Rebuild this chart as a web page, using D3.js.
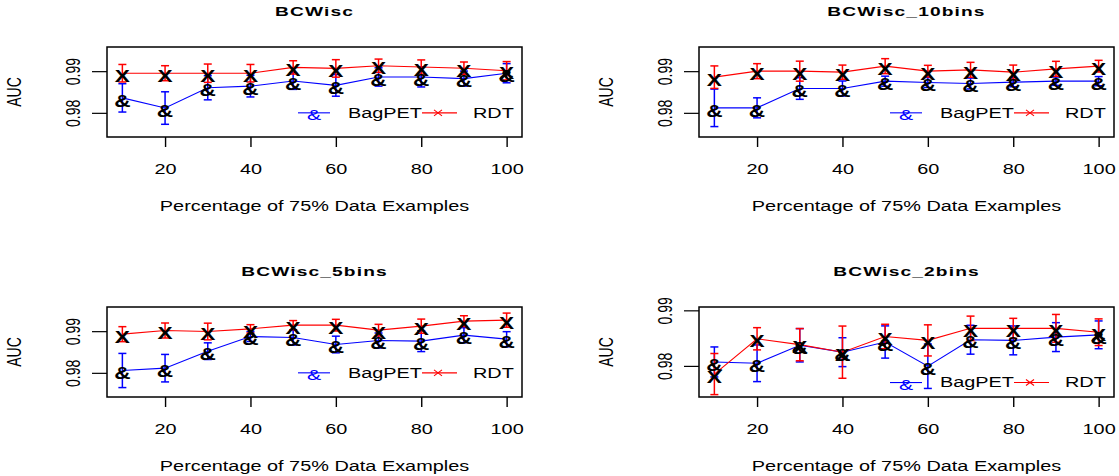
<!DOCTYPE html>
<html>
<head>
<meta charset="utf-8">
<script src="https://cdn.jsdelivr.net/npm/d3@7"></script>
<style>
  body { margin: 0; background: #fff; }
  text { font-family: "Liberation Sans", Arial, sans-serif; fill: #000; }
</style>
</head>
<body>
<div id="chart"></div>
<script>
// x values (percentage of the 75% data)
const pct = [10, 20, 30, 40, 50, 60, 70, 80, 90, 100];
const xTicks = [20, 40, 60, 80, 100];
const yTicks = [0.98, 0.99];
const titles = ["BCWisc", "BCWisc_10bins", "BCWisc_5bins", "BCWisc_2bins"];
const ylims = [[0.975, 0.995], [0.975, 0.995], [0.975, 0.995], [0.975, 0.99]];
const legendAt = [0.98, 0.98, 0.98, 0.977];

// BCWisc
const bag1 = [0.98359, 0.98115, 0.98602, 0.98641, 0.98763, 0.98659, 0.98861, 0.98861, 0.98822, 0.98951];
const bagErr1 = [0.0034, 0.0039, 0.0029, 0.0026, 0.0020, 0.0026, 0.0022, 0.0024, 0.0018, 0.0023];
const rdt1 = [0.98951, 0.98951, 0.98951, 0.98951, 0.9909, 0.99066, 0.9913, 0.9910, 0.9907, 0.9901];
const rdtErr1 = [0.0021, 0.0018, 0.0022, 0.0021, 0.0016, 0.0021, 0.0016, 0.0017, 0.0015, 0.0022];
// BCWisc_10bins
const bag2 = [0.9812, 0.9812, 0.98584, 0.98584, 0.9876, 0.98728, 0.98704, 0.98736, 0.9876, 0.9876];
const bagErr2 = [0.0045, 0.0024, 0.0026, 0.0018, 0.0012, 0.0012, 0.0013, 0.0011, 0.0010, 0.0011];
const rdt2 = [0.98856, 0.9900, 0.9900, 0.98976, 0.9912, 0.9900, 0.99032, 0.98976, 0.99056, 0.9912];
const rdtErr2 = [0.0027, 0.0018, 0.0024, 0.0017, 0.0018, 0.0014, 0.0018, 0.0017, 0.0018, 0.0014];
// BCWisc_5bins
const bag3 = [0.98056, 0.98112, 0.9852, 0.98872, 0.98848, 0.9868, 0.98776, 0.9876, 0.98904, 0.98808];
const bagErr3 = [0.0041, 0.0033, 0.0020, 0.0012, 0.0018, 0.0020, 0.0018, 0.0025, 0.0018, 0.0018];
const rdt3 = [0.98928, 0.99016, 0.98992, 0.99056, 0.99144, 0.99144, 0.99024, 0.9912, 0.9924, 0.99264];
const rdtErr3 = [0.0018, 0.0018, 0.0020, 0.0010, 0.0011, 0.0014, 0.0014, 0.0017, 0.0013, 0.0017];
// BCWisc_2bins
const bag4 = [0.98071, 0.98047, 0.98371, 0.98247, 0.9843, 0.97994, 0.98471, 0.98459, 0.98518, 0.98559];
const bagErr4 = [0.0027, 0.0033, 0.0030, 0.0026, 0.0029, 0.0040, 0.0026, 0.0026, 0.0026, 0.0025];
const rdt4 = [0.97853, 0.98488, 0.98382, 0.98247, 0.98529, 0.98459, 0.98676, 0.98676, 0.98676, 0.98606];
const rdtErr4 = [0.0037, 0.0020, 0.0029, 0.0047, 0.0022, 0.0028, 0.0022, 0.0018, 0.0025, 0.0024];

const bagMeans = [bag1, bag2, bag3, bag4];
const bagErrs = [bagErr1, bagErr2, bagErr3, bagErr4];
const rdtMeans = [rdt1, rdt2, rdt3, rdt4];
const rdtErrs = [rdtErr1, rdtErr2, rdtErr3, rdtErr4];

// the reference picture is stretched sideways, so text is too
const SX = 1.42;
const pw = 415, ph = 90;
const boxes = [[107, 47], [699, 47], [107, 307], [699, 307]];

const svg = d3.select("#chart").append("svg")
  .attr("width", 1119)
  .attr("height", 476);
svg.append("rect").attr("width", 1119).attr("height", 476).attr("fill", "#fff");

// R style: extend the range by 4% on each side
function ext(lo, hi) {
  const d = (hi - lo) * 0.04;
  return [lo - d, hi + d];
}

function stretchedText(g, x, y, str, size, weight, rot) {
  return g.append("text")
    .attr("transform", "translate(" + x + "," + y + ") scale(" + SX + ",1)" + (rot ? " rotate(-90)" : ""))
    .attr("text-anchor", "middle")
    .attr("dominant-baseline", "central")
    .style("font-size", size + "px")
    .style("font-weight", weight || "normal")
    .text(str);
}

titles.forEach(function(title, i) {
  const left = boxes[i][0], top = boxes[i][1];
  const g = svg.append("g").attr("transform", "translate(" + left + "," + top + ")");

  const x = d3.scaleLinear().domain(ext(10, 100)).range([0, pw]);
  const y = d3.scaleLinear().domain(ext(ylims[i][0], ylims[i][1])).range([ph, 0]);

  // x axis
  const xa = g.append("g")
    .attr("transform", "translate(0," + ph + ")")
    .call(d3.axisBottom(x).tickValues(xTicks).tickSize(10).tickFormat(d3.format("d")));
  xa.select(".domain").remove();
  xa.selectAll("line").attr("stroke", "#000").attr("stroke-width", 1.4);
  xa.selectAll("text")
    .attr("y", null).attr("dy", null)
    .attr("transform", "translate(0,32) scale(" + SX + ",1)")
    .attr("dominant-baseline", "central")
    .style("font-size", "14px")
    .style("font-family", "Liberation Sans, Arial, sans-serif")
    .attr("fill", "#000");

  // y axis
  const ya = g.append("g")
    .call(d3.axisLeft(y).tickValues(yTicks).tickSize(15).tickFormat(d3.format(".2f")));
  ya.select(".domain").remove();
  ya.selectAll("line").attr("stroke", "#000").attr("stroke-width", 1.2);
  ya.selectAll("text")
    .attr("x", null).attr("dy", null)
    .attr("transform", "translate(-34,0) scale(" + SX + ",1) rotate(-90)")
    .attr("text-anchor", "middle")
    .attr("dominant-baseline", "central")
    .style("font-size", "14px")
    .style("font-family", "Liberation Sans, Arial, sans-serif")
    .attr("fill", "#000");

  // labels
  stretchedText(g, pw / 2, -35, title, 13.5, "bold").style("letter-spacing", "0.8px");
  stretchedText(g, pw / 2, ph + 69, "Percentage of 75% Data Examples", 14);
  stretchedText(g, -93, ph / 2, "AUC", 14, "normal", true);

  const series = [
    {mean: bagMeans[i], err: bagErrs[i], color: "#0000ff", sym: "&"},
    {mean: rdtMeans[i], err: rdtErrs[i], color: "#ff0000", sym: "X"}
  ];

  const line = d3.line().x(function(d, j) { return x(pct[j]); }).y(function(d) { return y(d); });

  series.forEach(function(s) {
    g.append("path")
      .datum(s.mean)
      .attr("d", line)
      .attr("fill", "none")
      .attr("stroke", s.color)
      .attr("stroke-width", 1.1);

    const eb = g.append("g").attr("stroke", s.color).attr("stroke-width", 1.5);
    s.mean.forEach(function(m, j) {
      const cx = x(pct[j]), y0 = y(m - s.err[j]), y1 = y(m + s.err[j]);
      eb.append("line").attr("x1", cx).attr("x2", cx).attr("y1", y0).attr("y2", y1);
      eb.append("line").attr("x1", cx - 4).attr("x2", cx + 4).attr("y1", y0).attr("y2", y0);
      eb.append("line").attr("x1", cx - 4).attr("x2", cx + 4).attr("y1", y1).attr("y2", y1);
    });
  });

  // black point symbols on top
  series.forEach(function(s) {
    s.mean.forEach(function(m, j) {
      stretchedText(g, x(pct[j]), y(m) + 3, s.sym, s.sym === "X" ? 16 : 16, "bold");
    });
  });

  // legend
  const ly = y(legendAt[i]);
  const lg = g.append("g");
  lg.append("line").attr("x1", pw - 224).attr("x2", pw - 192).attr("y1", ly).attr("y2", ly)
    .attr("stroke", "#0000ff").attr("stroke-width", 1.1);
  stretchedText(lg, pw - 208, ly + 2, "&", 15).style("fill", "#0000ff");
  lg.append("text")
    .attr("transform", "translate(" + (pw - 174) + "," + ly + ") scale(" + SX + ",1)")
    .attr("dominant-baseline", "central")
    .style("font-size", "14px")
    .text("BagPET");
  lg.append("line").attr("x1", pw - 100).attr("x2", pw - 65).attr("y1", ly).attr("y2", ly)
    .attr("stroke", "#ff0000").attr("stroke-width", 1.1);
  const cx = pw - 84;
  lg.append("path")
    .attr("d", "M" + (cx - 4) + "," + (ly - 3) + "L" + (cx + 4) + "," + (ly + 3) +
               "M" + (cx - 4) + "," + (ly + 3) + "L" + (cx + 4) + "," + (ly - 3))
    .attr("stroke", "#ff0000").attr("stroke-width", 1.1);
  lg.append("text")
    .attr("transform", "translate(" + (pw - 49) + "," + ly + ") scale(" + SX + ",1)")
    .attr("dominant-baseline", "central")
    .style("font-size", "14px")
    .text("RDT");

  // box
  g.append("rect")
    .attr("width", pw).attr("height", ph)
    .attr("fill", "none")
    .attr("stroke", "#000")
    .attr("stroke-width", 1.5);
});
</script>
</body>
</html>
